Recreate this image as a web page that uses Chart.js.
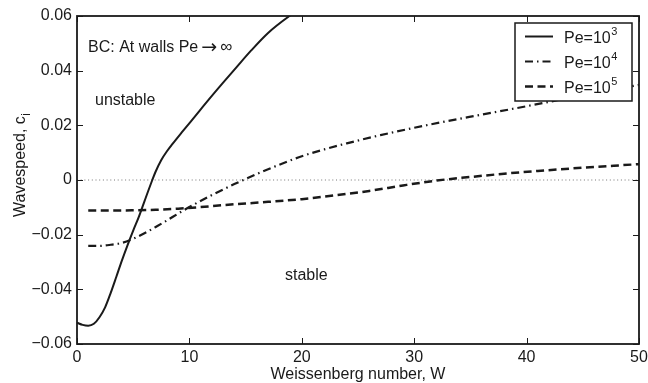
<!DOCTYPE html>
<html>
<head>
<meta charset="utf-8">
<script src="https://cdn.jsdelivr.net/npm/chart.js@4.4.1/dist/chart.umd.min.js"></script>
<style>
  html, body { margin: 0; padding: 0; background: #fff; }
  #wrap { width: 648px; height: 383px; }
</style>
</head>
<body>
<div id="wrap"><canvas id="myChart" width="648" height="383"></canvas></div>
<script>
// values: Weissenberg number W -> wavespeed c_i
var wPe3 = [0, 0.5, 1, 1.5, 2, 2.5, 3, 3.5, 4, 4.5, 5, 5.5, 6, 6.7, 7.0, 7.5, 8.0, 8.5, 9.3, 10.5, 11.7, 13, 14.2, 15.5, 17, 18.9, 20];
var cPe3 = [-0.0522, -0.0530, -0.0533, -0.0526, -0.0502, -0.0466, -0.0413, -0.0354, -0.0294, -0.0238, -0.0185, -0.0135, -0.0078, 0.0, 0.0031, 0.0073, 0.0105, 0.0132, 0.0173, 0.0233, 0.0293, 0.0356, 0.0413, 0.0474, 0.0538, 0.0600, 0.0630];

var wPe4 = [1, 2, 3, 4, 5, 6, 7, 8, 9, 10, 12, 14, 16, 18, 20, 22, 24, 27, 30, 33, 36, 40, 45, 50];
var cPe4 = [-0.0241, -0.0241, -0.0237, -0.0230, -0.0215, -0.0195, -0.0172, -0.0148, -0.0123, -0.0099, -0.0055, -0.0015, 0.0022, 0.0056, 0.0087, 0.0112, 0.0134, 0.0164, 0.0191, 0.0216, 0.0239, 0.0270, 0.0310, 0.0348];

var wPe5 = [1, 3, 5, 7, 9, 11, 13, 15, 17, 20, 23, 26, 29, 32, 35, 38, 41, 45, 50];
var cPe5 = [-0.0112, -0.0112, -0.0111, -0.0109, -0.0105, -0.0099, -0.0092, -0.0086, -0.0080, -0.0070, -0.0056, -0.0040, -0.0020, -0.0002, 0.0011, 0.0023, 0.0033, 0.0045, 0.0058];

var zeroLineW = [0, 50];
var zeroLineC = [0, 0];

var seriesNames = ['Pe=10³', 'Pe=10⁴', 'Pe=10⁵'];
var legendBase = 'Pe=10';
var legendExp = ['3', '4', '5'];

var xTicks = [0, 10, 20, 30, 40, 50];
var yTicks = [-0.06, -0.04, -0.02, 0, 0.02, 0.04, 0.06];
var yTickLabels = ['\u22120.06', '\u22120.04', '\u22120.02', '0', '0.02', '0.04', '0.06'];

var xTitle = 'Weissenberg number, W';
var yTitle = 'Wavespeed, c';
var yTitleSub = 'i';

// text notes placed in data coordinates (W, c)
var noteText = ['BC: At walls Pe', 'unstable', 'stable'];
var noteW = [0.98, 1.6, 18.5];
var noteC = [0.0469, 0.0274, -0.0366];

var FONT = '"Liberation Sans", Arial, Helvetica, sans-serif';
var INK = '#1a1a1a';

function pts(ws, cs) {
    return ws.map(function (w, i) { return { x: w, y: cs[i] }; });
}

var decor = {
    id: 'decor',
    afterDatasetsDraw: function (chart) {
        var ctx = chart.ctx;
        var a = chart.chartArea;
        var x = chart.scales.x;
        var y = chart.scales.y;
        ctx.save();

        // inward ticks on all four sides
        ctx.strokeStyle = INK;
        ctx.lineWidth = 1;
        ctx.beginPath();
        x.ticks.forEach(function (t) {
            var px = Math.round(x.getPixelForValue(t.value)) + 0.5;
            ctx.moveTo(px, a.bottom); ctx.lineTo(px, a.bottom - 6);
            ctx.moveTo(px, a.top); ctx.lineTo(px, a.top + 6);
        });
        y.ticks.forEach(function (t) {
            var py = Math.round(y.getPixelForValue(t.value)) + 0.5;
            ctx.moveTo(a.left, py); ctx.lineTo(a.left + 6, py);
            ctx.moveTo(a.right, py); ctx.lineTo(a.right - 6, py);
        });
        ctx.stroke();

        // box
        ctx.lineWidth = 1.8;
        ctx.strokeRect(a.left, a.top, a.right - a.left, a.bottom - a.top);

        // notes
        ctx.fillStyle = INK;
        ctx.font = '16px ' + FONT;
        ctx.textAlign = 'left';
        ctx.textBaseline = 'alphabetic';
        noteText.forEach(function (s, i) {
            ctx.fillText(s, x.getPixelForValue(noteW[i]), y.getPixelForValue(noteC[i]));
        });
        // arrow and infinity after "Pe"
        var bx = x.getPixelForValue(noteW[0]);
        var by = y.getPixelForValue(noteC[0]);
        var ew = ctx.measureText(noteText[0]).width;
        ctx.font = '19px "DejaVu Sans", sans-serif';
        ctx.fillText('\u2192', bx + ew + 3, by + 1);
        var aw = ctx.measureText('\u2192').width;
        ctx.font = '17px ' + FONT;
        ctx.fillText('\u221e', bx + ew + 3 + aw + 3, by);

        // axis titles
        ctx.font = '16px ' + FONT;
        ctx.textAlign = 'center';
        ctx.fillText(xTitle, (a.left + a.right) / 2, a.bottom + 35);

        ctx.save();
        ctx.translate(25, a.bottom - 127);
        ctx.rotate(-Math.PI / 2);
        ctx.textAlign = 'left';
        ctx.fillText(yTitle, 0, 0);
        var tw = ctx.measureText(yTitle).width;
        ctx.font = '12px ' + FONT;
        ctx.fillText(yTitleSub, tw + 0.5, 5);
        ctx.restore();

        // legend box
        var lw = 117, lh = 78;
        var lx = a.right - 7 - lw, ly = a.top + 7;
        ctx.fillStyle = '#fff';
        ctx.fillRect(lx, ly, lw, lh);
        ctx.lineWidth = 1.5;
        ctx.strokeStyle = INK;
        ctx.strokeRect(lx, ly, lw, lh);
        for (var i = 0; i < 3; i++) {
            var ds = chart.data.datasets[i];
            var ry = ly + 13.5 + i * 25;
            ctx.save();
            ctx.strokeStyle = ds.borderColor;
            ctx.lineWidth = ds.borderWidth;
            ctx.setLineDash(ds.borderDash || []);
            ctx.beginPath();
            ctx.moveTo(lx + 10, ry);
            ctx.lineTo(lx + 38, ry);
            ctx.stroke();
            ctx.restore();
            ctx.fillStyle = INK;
            ctx.textAlign = 'left';
            ctx.font = '16px ' + FONT;
            ctx.fillText(legendBase, lx + 49, ry + 6);
            var bw = ctx.measureText(legendBase).width;
            ctx.font = '11px ' + FONT;
            ctx.fillText(legendExp[i], lx + 49 + bw + 0.5, ry - 2);
        }
        ctx.restore();
    }
};

window.onload = function () {
    var ctx = document.getElementById('myChart');
    var myChart = new Chart(ctx, {
        type: 'line',
        data: {
            datasets: [{
                label: seriesNames[0],
                data: pts(wPe3, cPe3),
                borderColor: INK,
                borderWidth: 2,
                clip: 0
            }, {
                label: seriesNames[1],
                data: pts(wPe4, cPe4),
                borderColor: INK,
                borderWidth: 2.2,
                borderDash: [8, 4, 1.5, 4],
                clip: 0
            }, {
                label: seriesNames[2],
                data: pts(wPe5, cPe5),
                borderColor: INK,
                borderWidth: 2.5,
                borderDash: [8, 4.5],
                clip: 0
            }, {
                label: '',
                data: pts(zeroLineW, zeroLineC),
                borderColor: '#777',
                borderWidth: 1,
                borderDash: [1, 2.7],
                tension: 0,
                clip: 0
            }]
        },
        options: {
            responsive: false,
            animation: false,
            devicePixelRatio: 1,
            layout: { padding: { top: 16, right: 9, left: 0, bottom: 0 } },
            elements: {
                point: { radius: 0 },
                line: { cubicInterpolationMode: 'monotone', fill: false }
            },
            scales: {
                x: {
                    type: 'linear',
                    min: 0,
                    max: 50,
                    afterBuildTicks: function (s) { s.ticks = xTicks.map(function (v) { return { value: v }; }); },
                    afterFit: function (s) { s.height = 39; s.paddingLeft = 0; s.paddingRight = 0; },
                    grid: { display: false, drawTicks: false },
                    border: { display: false },
                    ticks: {
                        color: INK,
                        padding: 4,
                        maxRotation: 0,
                        font: { family: FONT, size: 16 },
                        callback: function (v) { return String(v); }
                    }
                },
                y: {
                    type: 'linear',
                    min: -0.06,
                    max: 0.06,
                    afterBuildTicks: function (s) { s.ticks = yTicks.map(function (v) { return { value: v }; }); },
                    afterFit: function (s) { s.width = 77; s.paddingTop = 0; s.paddingBottom = 0; },
                    grid: { display: false, drawTicks: false },
                    border: { display: false },
                    ticks: {
                        color: INK,
                        padding: 5,
                        font: { family: FONT, size: 16 },
                        callback: function (v, i) { return yTickLabels[i]; }
                    }
                }
            },
            plugins: {
                legend: { display: false },
                tooltip: { enabled: false }
            }
        },
        plugins: [decor]
    });
};
</script>
</body>
</html>
